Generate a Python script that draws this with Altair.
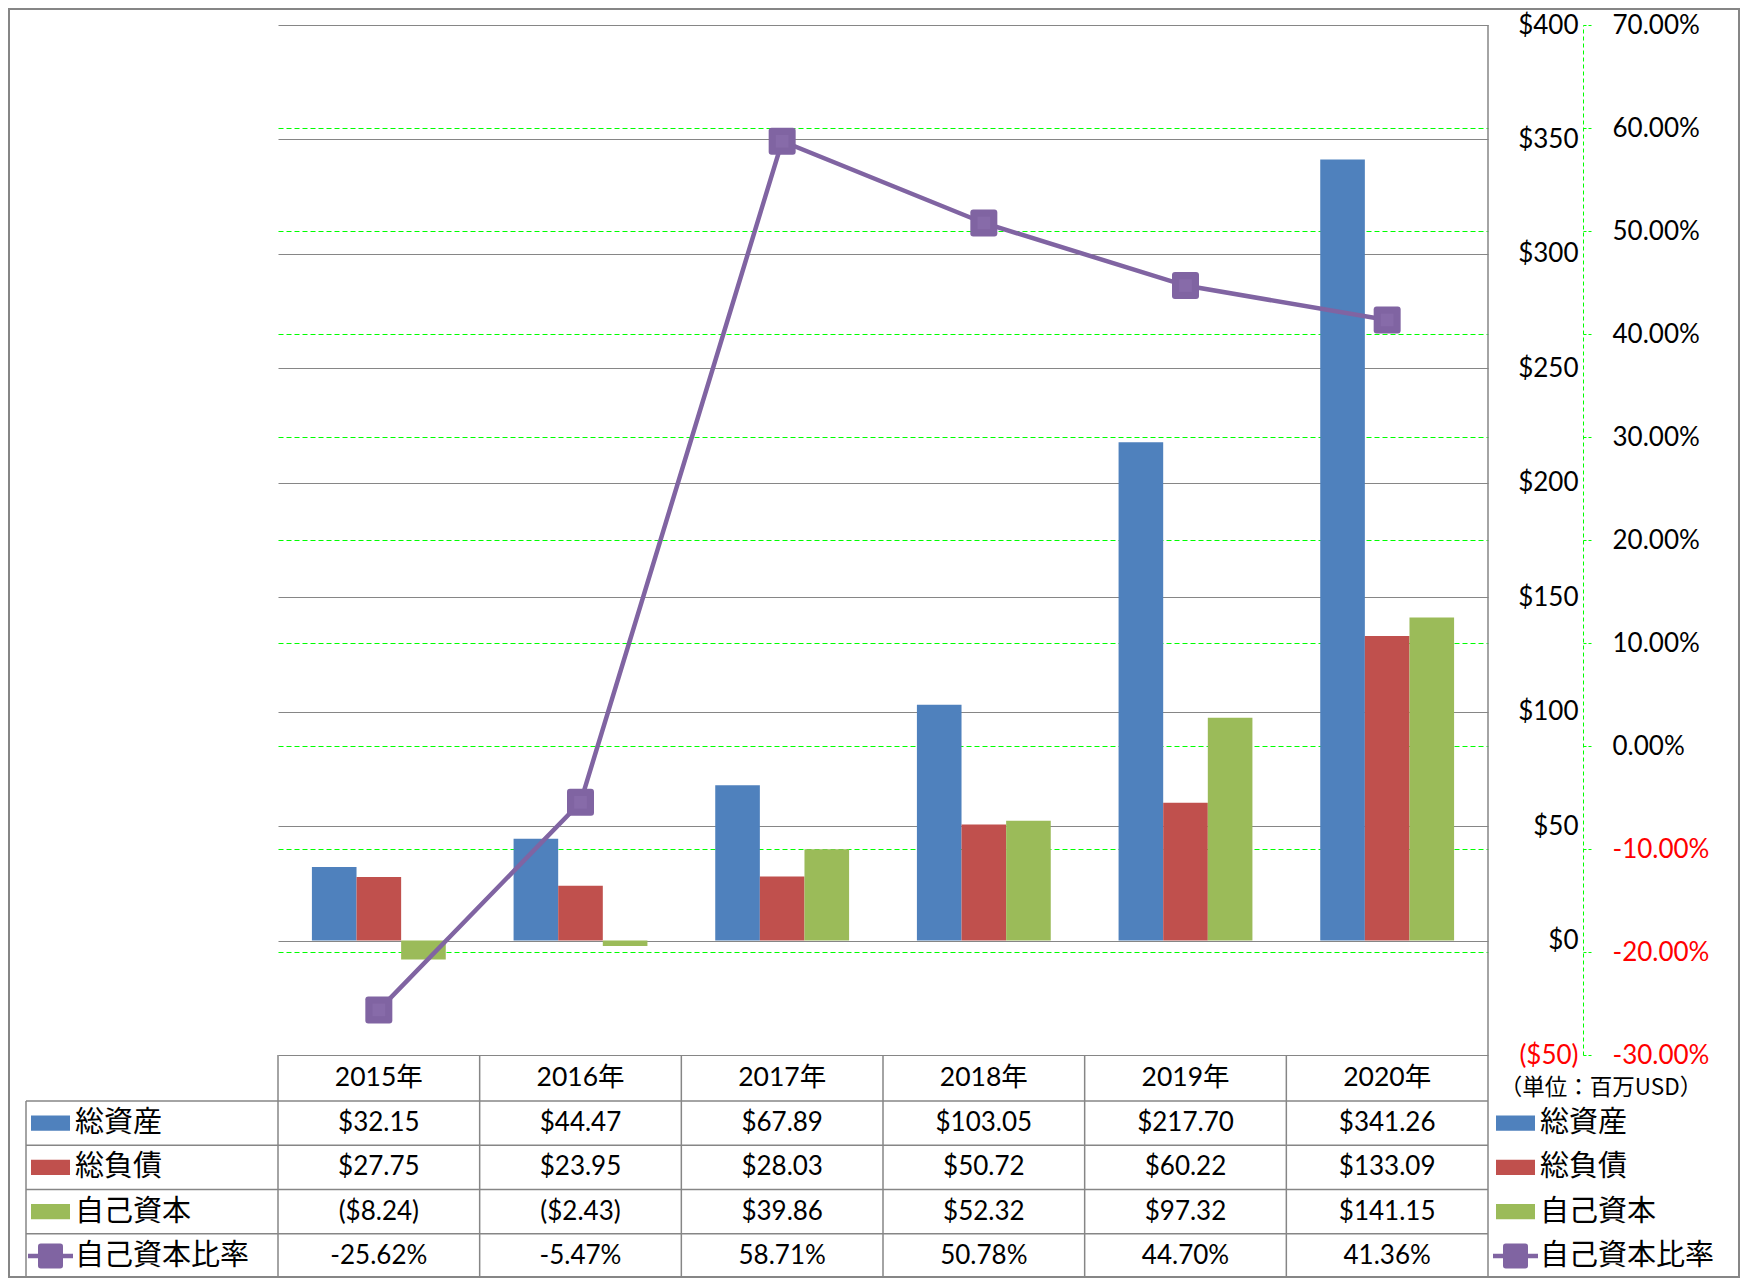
import altair as alt
import pandas as pd

# ---------------- data ----------------
years = ["2015年", "2016年", "2017年", "2018年", "2019年", "2020年"]
series_bars = ["総資産", "総負債", "自己資本"]
ratio_name = "自己資本比率"
total_assets = [32.15, 44.47, 67.89, 103.05, 217.70, 341.26]
total_liabilities = [27.75, 23.95, 28.03, 50.72, 60.22, 133.09]
equity = [-8.24, -2.43, 39.86, 52.32, 97.32, 141.15]
equity_ratio = [-25.62, -5.47, 58.71, 50.78, 44.70, 41.36]
bar_colors = ["#4F81BD", "#C0504D", "#9BBB59"]
ratio_color = "#8064A2"
usd_ticks = [-50, 0, 50, 100, 150, 200, 250, 300, 350, 400]
pct_ticks = [-30, -20, -10, 0, 10, 20, 30, 40, 50, 60, 70]
pct_grid = [-20, -10, 0, 10, 20, 30, 40, 50, 60]
unit_label = "（単位：百万USD）"

# ---------------- layout ----------------
W, H = 1210, 1030
PAD = {"left": 270, "top": 17, "right": 252, "bottom": 223}
HDR_H = 46
ROW_H = 44.25
ROW_TOP = H + HDR_H
TBL_BOTTOM = ROW_TOP + 4 * ROW_H
ROW_C0 = ROW_TOP + ROW_H / 2
ROW_C3 = ROW_TOP + 3.5 * ROW_H
HDR_C = H + HDR_H / 2
LEFT_COL = -252
GRID_GREY = "#868686"
GREEN = "#00FF00"
FONT = "Lato, Noto Sans CJK JP"
CJK = "Noto Sans CJK JP"


def money(v):
    return f"(${abs(v):.2f})" if v < 0 else f"${v:.2f}"


def pct(v):
    return f"{v:.2f}%"


bar_values = [total_assets, total_liabilities, equity]
bars_df = pd.DataFrame(
    [{"year": y, "series": s, "value": vals[i]}
     for s, vals in zip(series_bars, bar_values) for i, y in enumerate(years)]
)
ratio_df = pd.DataFrame({"year": years, "ratio": equity_ratio})
years_df = pd.DataFrame({"year": years})

table_rows = []
for s, vals in zip(series_bars, bar_values):
    for y, v in zip(years, vals):
        table_rows.append({"year": y, "series": s, "text": money(v)})
for y, v in zip(years, equity_ratio):
    table_rows.append({"year": y, "series": ratio_name, "text": pct(v)})
table_df = pd.DataFrame(table_rows)

legend_df = pd.DataFrame({"series": series_bars})
legend_all_df = pd.DataFrame({"series": series_bars + [ratio_name]})
ratio_legend_df = pd.DataFrame({"series": [ratio_name]})
one = pd.DataFrame({"k": [0]})

all_rows = series_bars + [ratio_name]

xscale = alt.Scale(type="band", domain=years, paddingInner=0, paddingOuter=0)
row_scale = alt.Scale(type="point", domain=all_rows, range=[ROW_C0, ROW_C3], padding=0)
color_scale = alt.Scale(domain=series_bars, range=bar_colors)
usd_scale = alt.Scale(domain=[-50, 400], nice=False, zero=False)
pct_scale = alt.Scale(domain=[-30, 70], nice=False, zero=False)

X = lambda **kw: alt.X("year:N", scale=xscale, axis=None, **kw)
YROW = alt.Y("series:N", scale=row_scale, axis=None)

rounded = ("M-0.78,-1 L0.78,-1 Q1,-1 1,-0.78 L1,0.78 Q1,1 0.78,1 "
           "L-0.78,1 Q-1,1 -1,0.78 L-1,-0.78 Q-1,-1 -0.78,-1 Z")
swatch = "M-1,-0.385 L1,-0.385 L1,0.385 L-1,0.385 Z"

layers = []

# outer border
layers.append(alt.Chart(one).mark_rect(fillOpacity=0, stroke=GRID_GREY, strokeWidth=2).encode(
    x=alt.value(-PAD["left"] + 1), x2=alt.value(W + PAD["right"] - 1),
    y=alt.value(-PAD["top"] + 1), y2=alt.value(H + PAD["bottom"] - 1)))

# green percentage grid
layers.append(alt.Chart(ratio_df).mark_line(opacity=0).encode(
    x=X(),
    y=alt.Y("ratio:Q", scale=pct_scale, axis=alt.Axis(
        orient="left", values=pct_grid, grid=True, gridColor=GREEN, gridDash=[5, 3],
        gridWidth=1, labels=False, ticks=False, domain=False, title=None))))

# bars with the USD axis
layers.append(alt.Chart(bars_df).mark_bar().encode(
    x=X(),
    xOffset=alt.XOffset("series:N", scale=alt.Scale(domain=series_bars, paddingOuter=0.76, paddingInner=0)),
    y=alt.Y("value:Q", scale=usd_scale, axis=alt.Axis(
        orient="right", offset=0, values=usd_ticks, grid=True, gridColor=GRID_GREY, gridWidth=1,
        ticks=False, tickSize=0, domain=False, title=None, labelAlign="right", labelBaseline="middle",
        labelPadding=90, labelFont="Lato", labelFontSize=26, labelFlush=False, labelOverlap=False,
        labelBound=False,
        labelExpr="datum.value < 0 ? '($' + abs(datum.value) + ')' : '$' + datum.value",
        labelColor={"condition": {"test": "datum.value < 0", "value": "#FF0000"}, "value": "#000000"})),
    color=alt.Color("series:N", scale=color_scale, legend=None)))

# table horizontal lines
for yb in [ROW_TOP, ROW_TOP + ROW_H, ROW_TOP + 2 * ROW_H, ROW_TOP + 3 * ROW_H]:
    layers.append(alt.Chart(one).mark_rule(color=GRID_GREY, strokeWidth=1.5).encode(
        x=alt.value(LEFT_COL), x2=alt.value(W), y=alt.value(yb)))
# table vertical lines at band starts
layers.append(alt.Chart(years_df).mark_rule(color=GRID_GREY, strokeWidth=1.5).encode(
    x=X(bandPosition=0), y=alt.value(H), y2=alt.value(TBL_BOTTOM)))
# right edge line of plot/table
layers.append(alt.Chart(one).mark_rule(color=GRID_GREY, strokeWidth=1.5).encode(
    x=alt.value(W), y=alt.value(0), y2=alt.value(TBL_BOTTOM)))
# left border of label column
layers.append(alt.Chart(one).mark_rule(color=GRID_GREY, strokeWidth=1.5).encode(
    x=alt.value(LEFT_COL), y=alt.value(ROW_TOP), y2=alt.value(TBL_BOTTOM)))

# ratio line with percentage axis
layers.append(alt.Chart(ratio_df).mark_line(color=ratio_color, strokeWidth=4.5).encode(
    x=X(),
    y=alt.Y("ratio:Q", scale=pct_scale, axis=alt.Axis(
        orient="right", offset=95, values=pct_ticks, grid=False, title=None,
        tickSize=10, tickColor=GREEN, tickDash=[3, 2], tickWidth=1,
        domainColor=GREEN, domainDash=[4, 3], domainWidth=1,
        labelAlign="left", labelBaseline="middle", labelPadding=19,
        labelFont="Lato", labelFontSize=26, labelFlush=False, labelOverlap=False, labelBound=False,
        labelExpr="(datum.value < 0 ? '-' : '') + format(abs(datum.value), '.2f') + '%'",
        labelColor={"condition": {"test": "datum.value < 0", "value": "#FF0000"}, "value": "#000000"}))))
layers.append(alt.Chart(ratio_df).mark_point(shape=rounded, filled=True, size=729, color=ratio_color,
                                             opacity=1, strokeWidth=0).encode(
    x=X(), y=alt.Y("ratio:Q", scale=pct_scale, axis=None)))
layers.append(alt.Chart(ratio_df).mark_point(shape="square", filled=True, size=160, color="#876BA9",
                                             opacity=1, strokeWidth=0).encode(
    x=X(), y=alt.Y("ratio:Q", scale=pct_scale, axis=None)))

# table header
layers.append(alt.Chart(years_df).mark_text(font=FONT, fontSize=26.5, color="#000000",
                                            baseline="middle", align="center").encode(
    x=X(), y=alt.value(HDR_C), text="year:N"))
# table values
layers.append(alt.Chart(table_df).mark_text(font=FONT, fontSize=26, color="#000000",
                                            baseline="middle", align="center").encode(
    x=X(), y=YROW, text="text:N"))

# legends (table left column and right side)
for sw_x, line_x0, line_x1, txt_x in [(-227.5, -250, -205, -203), (1237.5, 1215, 1260, 1262)]:
    layers.append(alt.Chart(legend_df).mark_point(shape=swatch, filled=True, size=39 * 39,
                                                  opacity=1, strokeWidth=0).encode(
        x=alt.value(sw_x), y=YROW,
        color=alt.Color("series:N", scale=color_scale, legend=None)))
    layers.append(alt.Chart(ratio_legend_df).mark_rule(color=ratio_color, strokeWidth=4.5).encode(
        x=alt.value(line_x0), x2=alt.value(line_x1), y=YROW))
    layers.append(alt.Chart(ratio_legend_df).mark_point(shape=rounded, filled=True, size=625,
                                                        color=ratio_color, opacity=1, strokeWidth=0).encode(
        x=alt.value(sw_x), y=YROW))
    layers.append(alt.Chart(legend_all_df).mark_text(font=CJK, fontSize=29, color="#000000",
                                                     baseline="middle", align="left").encode(
        x=alt.value(txt_x), y=YROW, text="series:N"))

# unit label
layers.append(alt.Chart(pd.DataFrame({"t": [unit_label]})).mark_text(
    font=CJK, fontSize=22.5, color="#000000", baseline="middle", align="center").encode(
    x=alt.value(1323), y=alt.value(H + 33), text="t:N"))

chart = alt.layer(*layers).resolve_scale(y="independent").properties(
    width=W, height=H, padding=PAD,
    autosize=alt.AutoSizeParams(type="none"), background="white"
).configure_view(strokeWidth=0)

chart.save("out.html", embed_options={"renderer": "svg", "actions": False})
